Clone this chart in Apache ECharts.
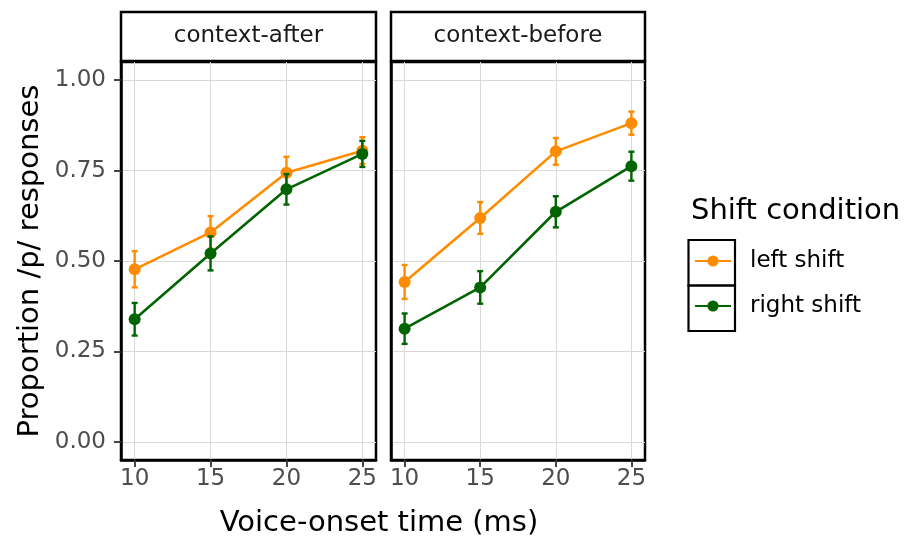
<!DOCTYPE html>
<html>
<head>
<meta charset="utf-8">
<script src="https://cdn.jsdelivr.net/npm/echarts@6/dist/echarts.min.js"></script>
<style>
html,body{margin:0;padding:0;background:#fff;}
#chart{width:907px;height:537px;}
</style>
</head>
<body>
<div id="chart"></div>
<script>
// ---- data ----
var vot = [10, 15, 20, 25];
var xTicks = [10, 15, 20, 25];
var yTicks = [0, 0.25, 0.5, 0.75, 1];
var panels = ['context-after', 'context-before'];
var groups = ['left shift', 'right shift'];

var afterLeft = [0.477, 0.579, 0.744, 0.805];
var afterLeftErr = [0.050, 0.045, 0.044, 0.037];
var afterRight = [0.339, 0.521, 0.698, 0.796];
var afterRightErr = [0.045, 0.047, 0.042, 0.036];
var beforeLeft = [0.442, 0.619, 0.803, 0.881];
var beforeLeftErr = [0.047, 0.044, 0.037, 0.032];
var beforeRight = [0.313, 0.427, 0.636, 0.762];
var beforeRightErr = [0.042, 0.045, 0.043, 0.040];

var colors = ['#FF8C00', '#006400'];
var FONT = 'DejaVu Sans';

var chart = echarts.init(document.getElementById('chart'), null, {renderer: 'canvas'});

var gridBoxes = [
  {left: 121, top: 62, width: 255, height: 398},
  {left: 391, top: 62, width: 254, height: 398}
];

function pts(vals) { return vot.map(function (v, i) { return [v, vals[i]]; }); }
function errs(vals, e) { return vot.map(function (v, i) { return [v, vals[i] - e[i], vals[i] + e[i]]; }); }

function errRender(color) {
  return function (params, api) {
    var x = api.value(0), lo = api.value(1), hi = api.value(2);
    var p1 = api.coord([x, hi]), p2 = api.coord([x, lo]);
    var w = 3;
    var st = {stroke: color, lineWidth: 2.4};
    return {type: 'group', children: [
      {type: 'line', shape: {x1: p1[0], y1: p1[1], x2: p2[0], y2: p2[1]}, style: st},
      {type: 'line', shape: {x1: p1[0] - w, y1: p1[1], x2: p1[0] + w, y2: p1[1]}, style: st},
      {type: 'line', shape: {x1: p2[0] - w, y1: p2[1], x2: p2[0] + w, y2: p2[1]}, style: st}
    ]};
  };
}

var grids = gridBoxes.map(function (g) {
  return {left: g.left, top: g.top, width: g.width, height: g.height, show: true,
    borderColor: '#000', borderWidth: 2.5, backgroundColor: '#fff'};
});

var xAxes = gridBoxes.map(function (g, i) {
  return {type: 'value', gridIndex: i, min: 9.1, max: 25.9,
    axisLine: {show: true, onZero: false, lineStyle: {color: '#000', width: 2.5}},
    axisTick: {show: true, length: 7, customValues: xTicks, lineStyle: {color: '#333', width: 1.8}},
    axisLabel: {customValues: xTicks, color: '#4d4d4d', fontSize: 23, fontFamily: FONT, margin: 8},
    splitLine: {show: true, lineStyle: {color: '#d9d9d9', width: 1}}
  };
});

var yAxes = gridBoxes.map(function (g, i) {
  return {type: 'value', gridIndex: i, min: -0.05, max: 1.05,
    axisLine: {show: true, onZero: false, lineStyle: {color: '#000', width: 2.5}},
    axisTick: {show: i === 0, length: 7, customValues: yTicks, lineStyle: {color: '#333', width: 1.8}},
    axisLabel: {show: i === 0, customValues: yTicks, color: '#4d4d4d', fontSize: 23, fontFamily: FONT, margin: 15,
      formatter: function (v) { return Number(v).toFixed(2); }},
    splitLine: {show: true, lineStyle: {color: '#d9d9d9', width: 1}},
    name: i === 0 ? 'Proportion /p/ responses' : '',
    nameLocation: 'middle', nameRotate: 90, nameGap: 76,
    nameTextStyle: {color: '#000', fontSize: 29, fontFamily: FONT}
  };
});

var panelData = [
  [[afterLeft, afterLeftErr], [afterRight, afterRightErr]],
  [[beforeLeft, beforeLeftErr], [beforeRight, beforeRightErr]]
];

var series = [];
panelData.forEach(function (pd, pi) {
  pd.forEach(function (gd, gi) {
    series.push({
      type: 'line', name: groups[gi], xAxisIndex: pi, yAxisIndex: pi,
      data: pts(gd[0]), symbol: 'circle', symbolSize: 12, showSymbol: true,
      lineStyle: {color: colors[gi], width: 2.6}, itemStyle: {color: colors[gi]},
      z: 3 + gi * 3
    });
    series.push({
      type: 'custom', name: groups[gi] + ' error', xAxisIndex: pi, yAxisIndex: pi,
      renderItem: errRender(colors[gi]), data: errs(gd[0], gd[1]),
      encode: {x: 0, y: [1, 2]}, z: 2 + gi * 3
    });
  });
});

var graphics = [];
gridBoxes.forEach(function (g, i) {
  graphics.push({type: 'rect', shape: {x: g.left, y: 12, width: g.width, height: 49},
    style: {fill: '#fff', stroke: '#000', lineWidth: 2.5}});
  graphics.push({type: 'text', x: g.left + g.width / 2, y: 36.5,
    style: {text: panels[i], fill: '#1a1a1a', fontSize: 23, fontFamily: FONT, textAlign: 'center', textVerticalAlign: 'middle'}});
});
graphics.push({type: 'text', x: 379, y: 523,
  style: {text: 'Voice-onset time (ms)', fill: '#000', fontSize: 29, fontFamily: FONT, textAlign: 'center', textVerticalAlign: 'middle'}});
graphics.push({type: 'text', x: 691, y: 211,
  style: {text: 'Shift condition', fill: '#000', fontSize: 29, fontFamily: FONT, textAlign: 'left', textVerticalAlign: 'middle'}});
graphics.push({type: 'rect', shape: {x: 688.5, y: 240, width: 46.5, height: 45.5},
  style: {fill: 'none', stroke: '#000', lineWidth: 2.2}});
graphics.push({type: 'rect', shape: {x: 688.5, y: 285.5, width: 46.5, height: 45.5},
  style: {fill: 'none', stroke: '#000', lineWidth: 2.2}});

chart.setOption({
  animation: false,
  backgroundColor: '#fff',
  grid: grids,
  xAxis: xAxes,
  yAxis: yAxes,
  series: series,
  legend: {
    data: groups, orient: 'vertical', left: 694, top: 249, padding: 0,
    itemWidth: 36, itemHeight: 14, itemGap: 21,
    textStyle: {fontSize: 23, fontFamily: FONT, color: '#000', lineHeight: 24, padding: [0, 0, 0, 14]},
    selectedMode: false
  },
  graphic: graphics
});
</script>
</body>
</html>
